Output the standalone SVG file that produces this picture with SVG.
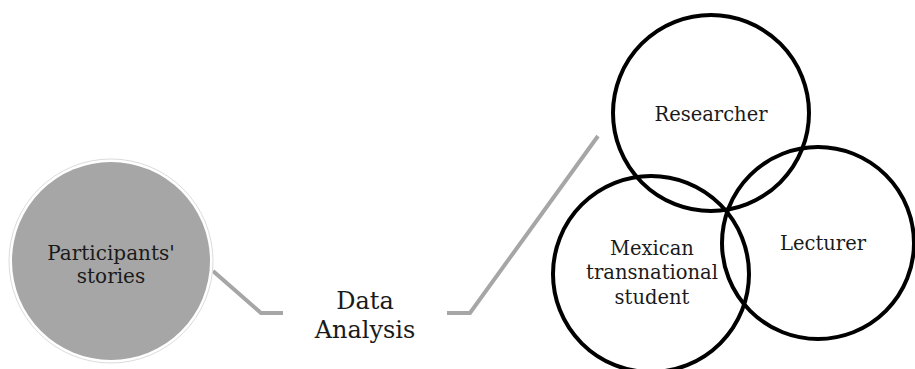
<svg xmlns="http://www.w3.org/2000/svg" width="915" height="369" viewBox="0 0 915 369">
  <style>
    .lbl { font-family: "DejaVu Serif", "Liberation Serif", serif; fill: #1a1a1a; text-anchor: middle; }
    .ring { fill: none; stroke: #000; stroke-width: 4; }
    .link { fill: none; stroke: #a6a6a6; stroke-width: 4; stroke-linejoin: miter; }
  </style>
  <rect width="915" height="369" fill="#fff"/>

  <!-- connectors -->
  <g id="connectors">
    <polyline class="link" points="213,271 261,313 283,313"/>
    <polyline class="link" points="447,313 470,313 598,136"/>
  </g>

  <!-- source node -->
  <g id="participants-stories">
    <circle cx="111" cy="261" r="102" fill="#fff" stroke="#dcdcdc" stroke-width="1"/>
    <circle cx="111" cy="261" r="99" fill="#a6a6a6"/>
    <text class="lbl" x="111" y="260" font-size="20">Participants'</text>
    <text class="lbl" x="111" y="283" font-size="20">stories</text>
  </g>

  <!-- analysis label -->
  <g id="data-analysis">
    <text class="lbl" x="365" y="309" font-size="24">Data</text>
    <text class="lbl" x="365" y="338" font-size="24">Analysis</text>
  </g>

  <!-- overlapping roles -->
  <g id="researcher">
    <circle class="ring" cx="711" cy="113" r="98"/>
    <text class="lbl" x="711" y="121" font-size="19.5">Researcher</text>
  </g>
  <g id="mexican-transnational-student">
    <circle class="ring" cx="651" cy="274" r="98"/>
    <text class="lbl" x="652" y="255" font-size="19.5">Mexican</text>
    <text class="lbl" x="652" y="279" font-size="19.5">transnational</text>
    <text class="lbl" x="652" y="304" font-size="19.5">student</text>
  </g>
  <g id="lecturer">
    <circle class="ring" cx="818" cy="243" r="96"/>
    <text class="lbl" x="823" y="250" font-size="19.5">Lecturer</text>
  </g>
</svg>
